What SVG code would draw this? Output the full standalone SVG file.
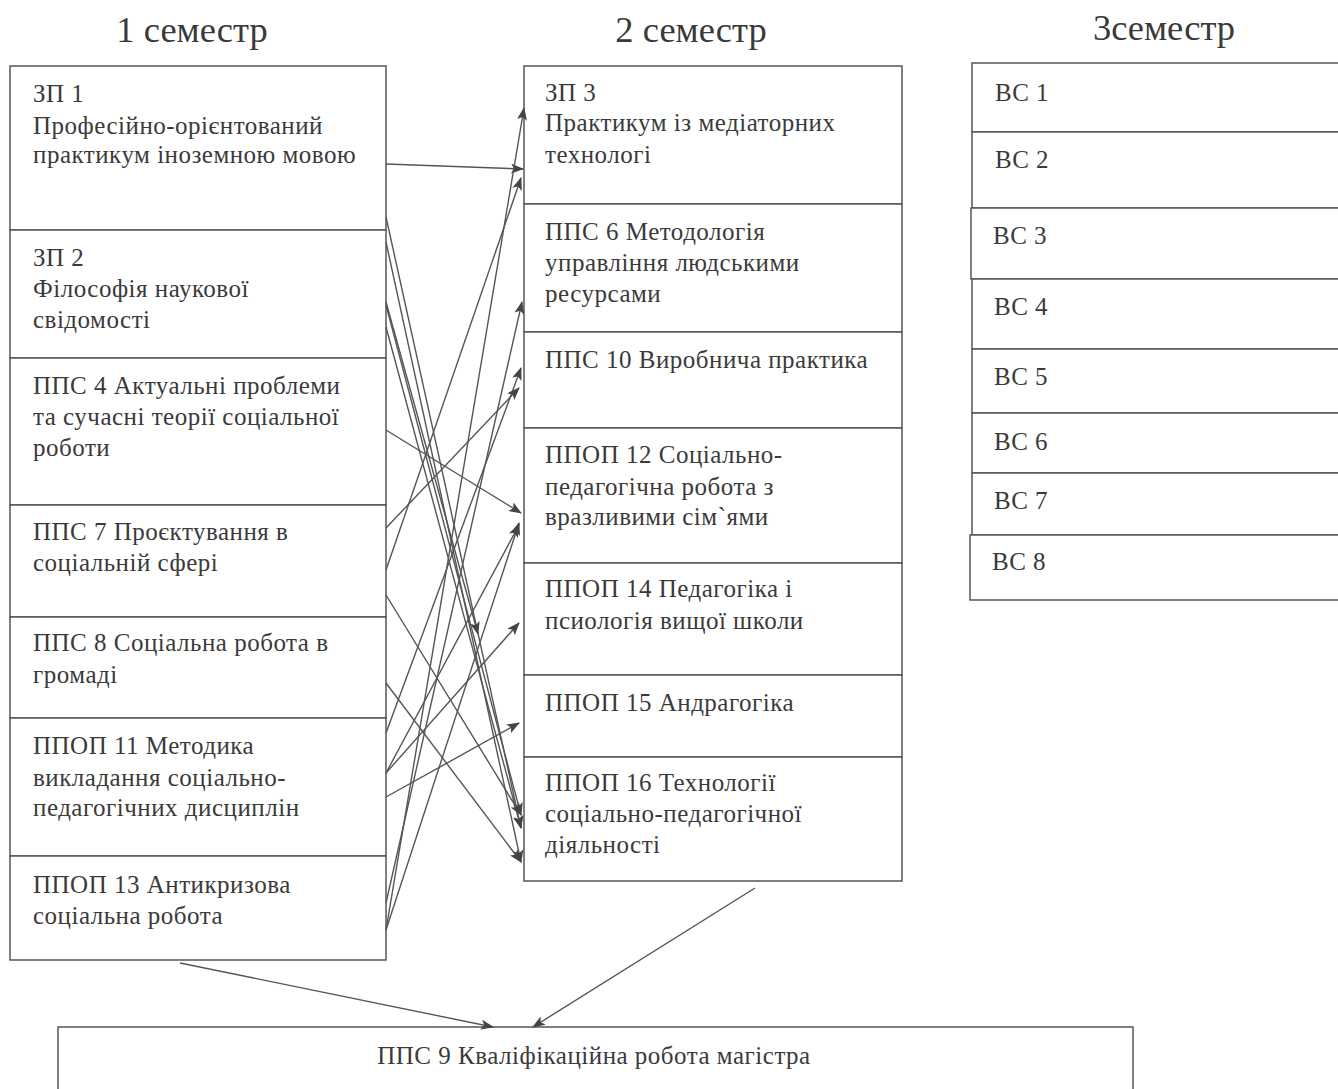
<svg xmlns="http://www.w3.org/2000/svg" width="1338" height="1089" viewBox="0 0 1338 1089">
<defs>
<marker id="ah" markerWidth="13" markerHeight="10" refX="12" refY="5" orient="auto" markerUnits="userSpaceOnUse">
<path d="M0,0 L13,5 L0,10 L3,5 Z" fill="#444"/>
</marker>
</defs>
<style>
.box{fill:#fff;stroke:#555;stroke-width:1.5}
.t{font-family:"Liberation Serif","Times New Roman",serif;font-size:25px;fill:#3a3a3a;letter-spacing:0.5px}
.h{font-family:"Liberation Serif","Times New Roman",serif;font-size:36.5px;fill:#3a3a3a}
.c{fill:none;stroke:#555;stroke-width:1.4;marker-end:url(#ah)}
</style>
<rect width="1338" height="1089" fill="#fff"/>
<g id="headers">
<text class="h" x="192" y="42" text-anchor="middle">1 семестр</text>
<text class="h" x="691" y="42" text-anchor="middle">2 семестр</text>
<text class="h" x="1164" y="40" text-anchor="middle">3семестр</text>
</g>
<g id="zp1"><rect class="box" x="10" y="66" width="376" height="164"/><text class="t" x="33" y="102">ЗП 1</text><text class="t" x="33" y="134">Професійно-орієнтований</text><text class="t" x="33" y="163">практикум іноземною мовою</text></g>
<g id="zp2"><rect class="box" x="10" y="230" width="376" height="128"/><text class="t" x="33" y="266">ЗП 2</text><text class="t" x="33" y="297">Філософія наукової</text><text class="t" x="33" y="328">свідомості</text></g>
<g id="pps4"><rect class="box" x="10" y="358" width="376" height="147"/><text class="t" x="33" y="394">ППС 4 Актуальні проблеми</text><text class="t" x="33" y="425">та сучасні теорії соціальної</text><text class="t" x="33" y="456">роботи</text></g>
<g id="pps7"><rect class="box" x="10" y="505" width="376" height="112"/><text class="t" x="33" y="540">ППС 7 Проєктування в</text><text class="t" x="33" y="571">соціальній сфері</text></g>
<g id="pps8"><rect class="box" x="10" y="617" width="376" height="101"/><text class="t" x="33" y="651">ППС 8 Соціальна робота в</text><text class="t" x="33" y="683">громаді</text></g>
<g id="ppop11"><rect class="box" x="10" y="718" width="376" height="138"/><text class="t" x="33" y="754">ППОП 11 Методика</text><text class="t" x="33" y="786">викладання соціально-</text><text class="t" x="33" y="816">педагогічних дисциплін</text></g>
<g id="ppop13"><rect class="box" x="10" y="856" width="376" height="104"/><text class="t" x="33" y="893">ППОП 13 Антикризова</text><text class="t" x="33" y="924">соціальна робота</text></g>

<g id="zp3"><rect class="box" x="524" y="66" width="378" height="138"/><text class="t" x="545" y="101">ЗП 3</text><text class="t" x="545" y="131">Практикум із медіаторних</text><text class="t" x="545" y="163">технологі</text></g>
<g id="pps6"><rect class="box" x="524" y="204" width="378" height="128"/><text class="t" x="545" y="240">ППС 6 Методологія</text><text class="t" x="545" y="271">управління людськими</text><text class="t" x="545" y="302">ресурсами</text></g>
<g id="pps10"><rect class="box" x="524" y="332" width="378" height="96"/><text class="t" x="545" y="368">ППС 10 Виробнича практика</text></g>
<g id="ppop12"><rect class="box" x="524" y="428" width="378" height="135"/><text class="t" x="545" y="463">ППОП 12 Соціально-</text><text class="t" x="545" y="495">педагогічна робота з</text><text class="t" x="545" y="525">вразливими сім`ями</text></g>
<g id="ppop14"><rect class="box" x="524" y="563" width="378" height="112"/><text class="t" x="545" y="597">ППОП 14 Педагогіка і</text><text class="t" x="545" y="629">псиологія вищої школи</text></g>
<g id="ppop15"><rect class="box" x="524" y="675" width="378" height="82"/><text class="t" x="545" y="711">ППОП 15 Андрагогіка</text></g>
<g id="ppop16"><rect class="box" x="524" y="757" width="378" height="124"/><text class="t" x="545" y="791">ППОП 16 Технології</text><text class="t" x="545" y="822">соціально-педагогічної</text><text class="t" x="545" y="853">діяльності</text></g>

<g id="vs1"><rect class="box" x="972" y="63" width="370" height="69"/><text class="t" x="995" y="101">ВС 1</text></g>
<g id="vs2"><rect class="box" x="972" y="132" width="370" height="76"/><text class="t" x="995" y="168">ВС 2</text></g>
<g id="vs3"><rect class="box" x="971" y="208" width="371" height="71"/><text class="t" x="993" y="244">ВС 3</text></g>
<g id="vs4"><rect class="box" x="972" y="279" width="370" height="70"/><text class="t" x="994" y="315">ВС 4</text></g>
<g id="vs5"><rect class="box" x="972" y="349" width="370" height="64"/><text class="t" x="994" y="385">ВС 5</text></g>
<g id="vs6"><rect class="box" x="972" y="413" width="370" height="60"/><text class="t" x="994" y="450">ВС 6</text></g>
<g id="vs7"><rect class="box" x="972" y="473" width="370" height="62"/><text class="t" x="994" y="509">ВС 7</text></g>
<g id="vs8"><rect class="box" x="970" y="535" width="372" height="65"/><text class="t" x="992" y="570">ВС 8</text></g>

<g id="pps9"><rect class="box" x="58" y="1027" width="1075" height="70"/><text class="t" x="594" y="1064" text-anchor="middle">ППС 9 Кваліфікаційна робота магістра</text></g>

<g id="connectors">
<line class="c" x1="386" y1="164" x2="523" y2="169"/>
<line class="c" x1="386" y1="217" x2="521" y2="828"/>
<line class="c" x1="386" y1="242" x2="521" y2="862"/>
<line class="c" x1="386" y1="302" x2="478" y2="634"/>
<line class="c" x1="386" y1="305" x2="521" y2="815"/>
<line class="c" x1="386" y1="327" x2="521" y2="828"/>
<line class="c" x1="386" y1="430" x2="521" y2="513"/>
<line class="c" x1="386" y1="595" x2="521" y2="815"/>
<line class="c" x1="386" y1="683" x2="521" y2="862"/>
<line class="c" x1="386" y1="930" x2="524" y2="108"/>
<line class="c" x1="386" y1="570" x2="521" y2="178"/>
<line class="c" x1="386" y1="903" x2="522" y2="302"/>
<line class="c" x1="386" y1="733" x2="521" y2="368"/>
<line class="c" x1="386" y1="528" x2="519" y2="388"/>
<line class="c" x1="386" y1="930" x2="519" y2="523"/>
<line class="c" x1="386" y1="773" x2="519" y2="525"/>
<line class="c" x1="386" y1="773" x2="519" y2="623"/>
<line class="c" x1="386" y1="797" x2="519" y2="723"/>
<line class="c" x1="180" y1="963" x2="493" y2="1027"/>
<line class="c" x1="755" y1="888" x2="533" y2="1027"/>
</g>
</svg>
